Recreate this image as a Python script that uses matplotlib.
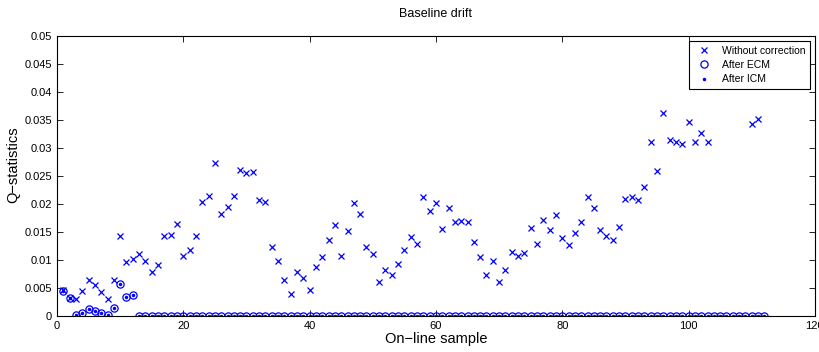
'''Q-statistics of on-line samples under baseline drift, with and without correction.'''

import numpy as np
import matplotlib
matplotlib.use('Agg')
import matplotlib.pyplot as plt


# Samples 1..112
samples = np.arange(1, 113)

# Without correction (nan = not shown, off the chart)
without_correction = [
    0.0046, 0.0032, 0.0030, 0.0045, 0.0064, 0.0055, 0.0042, 0.0030, 0.0064, 0.0143,
    0.0097, 0.0102, 0.0110, 0.0099, 0.0078, 0.0091, 0.0143, 0.0145, 0.0164, 0.0107,
    0.0117, 0.0143, 0.0204, 0.0215, 0.0273, 0.0182, 0.0195, 0.0215, 0.0261, 0.0255,
    0.0258, 0.0208, 0.0203, 0.0124, 0.0098, 0.0065, 0.0039, 0.0078, 0.0068, 0.0047,
    0.0088, 0.0105, 0.0135, 0.0163, 0.0107, 0.0152, 0.0202, 0.0182, 0.0124, 0.0110,
    0.0061, 0.0082, 0.0073, 0.0093, 0.0117, 0.0141, 0.0129, 0.0212, 0.0188, 0.0202,
    0.0155, 0.0193, 0.0168, 0.0170, 0.0167, 0.0132, 0.0105, 0.0073, 0.0099, 0.0061,
    0.0082, 0.0114, 0.0108, 0.0112, 0.0158, 0.0129, 0.0171, 0.0154, 0.0180, 0.0140,
    0.0127, 0.0149, 0.0168, 0.0213, 0.0193, 0.0154, 0.0142, 0.0136, 0.0159, 0.0209,
    0.0213, 0.0208, 0.0231, 0.0311, 0.0259, 0.0362, 0.0314, 0.0311, 0.0307, 0.0346,
    0.0310, 0.0326, 0.0310, np.nan, np.nan, np.nan, np.nan, np.nan, np.nan, 0.0343,
    0.0352, np.nan,
]

# After ECM / ICM: only the first dozen samples are non-zero
first_values = [0.0045, 0.0032, 0.0001, 0.0005, 0.0012, 0.0009, 0.0005, 0.0002,
                0.0014, 0.0058, 0.0034, 0.0037]
after_ecm = first_values + [0.0] * (len(samples) - len(first_values))
after_icm = list(after_ecm)

y_ticks = [0, 0.005, 0.01, 0.015, 0.02, 0.025, 0.03, 0.035, 0.04, 0.045, 0.05]
y_tick_labels = ['0', '0.005', '0.01', '0.015', '0.02', '0.025', '0.03',
                 '0.035', '0.04', '0.045', '0.05']
x_ticks = [0, 20, 40, 60, 80, 100, 120]


plt.rcParams['font.family'] = ['Liberation Sans', 'DejaVu Sans']

fig = plt.figure(figsize=(8.19, 3.52), dpi=100)
ax = fig.add_axes([0.0696, 0.1023, 0.9254, 0.7954])

ax.plot(samples, without_correction, 'x', color='#0000ff', markersize=5,
        markeredgewidth=0.9, label='Without correction')
ax.plot(samples, after_ecm, 'o', color='#0000ff', markersize=5.2,
        markerfacecolor='none', markeredgewidth=0.9, label='After ECM')
ax.plot(samples, after_icm, '.', color='#0000ff', markersize=3,
        label='After ICM')

ax.set_xlim(0, 120)
ax.set_ylim(0, 0.05)
ax.set_xticks(x_ticks)
ax.set_yticks(y_ticks)
ax.set_yticklabels(y_tick_labels)
ax.tick_params(direction='in', top=True, right=True, length=4, width=0.6,
               labelsize=8)
for spine in ax.spines.values():
    spine.set_linewidth(0.8)

ax.set_title('Baseline drift', fontsize=9, pad=14)
ax.set_xlabel('On\u2212line sample', fontsize=10.5, labelpad=1)
ax.set_ylabel('Q\u2212statistics', fontsize=10.5)
ax.yaxis.set_label_coords(-0.049, 0.54)

leg = ax.legend(loc='upper right', fontsize=7.5, frameon=True, fancybox=False,
                edgecolor='black', framealpha=1, borderpad=0.45,
                handletextpad=0.7, labelspacing=0.4, borderaxespad=0.5)
leg.get_frame().set_linewidth(0.8)

fig.savefig('out.png', dpi=100)
